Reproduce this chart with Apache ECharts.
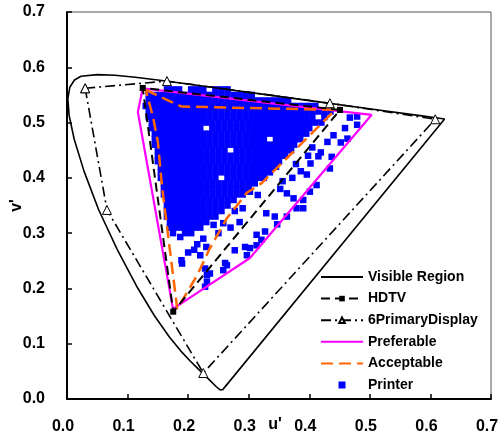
<!DOCTYPE html>
<html>
<head>
<meta charset="utf-8">
<script src="https://cdn.jsdelivr.net/npm/echarts@6/dist/echarts.min.js"></script>
<style>
  html, body { margin: 0; padding: 0; background: #fff; }
  #chart { width: 498px; height: 441px; }
</style>
</head>
<body>
<div id="chart"></div>
<script>
// axis ticks
var tickValues = [0, 0.1, 0.2, 0.3, 0.4, 0.5, 0.6, 0.7];

// spectral locus (u', v'), closed by the purple line
var visibleRegion = [
  [0.2568, 0.0165], [0.2545, 0.0159], [0.2522, 0.0169], [0.2461, 0.0226], [0.2347, 0.0350],
  [0.2266, 0.0437], [0.2161, 0.0549], [0.2033, 0.0688], [0.1877, 0.0871], [0.1690, 0.1120],
  [0.1441, 0.1510], [0.1147, 0.2044], [0.0828, 0.2708], [0.0521, 0.3427], [0.0282, 0.4117],
  [0.0119, 0.4698], [0.0035, 0.5131], [0.0014, 0.5432], [0.0046, 0.5638], [0.0123, 0.5770],
  [0.0231, 0.5837], [0.0501, 0.5868], [0.0792, 0.5856], [0.1127, 0.5821], [0.1531, 0.5766],
  [0.2026, 0.5694], [0.2623, 0.5604], [0.3315, 0.5501], [0.4035, 0.5393], [0.5203, 0.5219],
  [0.5830, 0.5125], [0.6234, 0.5065], [0.2568, 0.0165]
];

var hdtv = [[0.4507, 0.5229], [0.1250, 0.5625], [0.1754, 0.1579], [0.4507, 0.5229]];

var sixPrimary = [
  [0.030, 0.562], [0.165, 0.575], [0.434, 0.535], [0.608, 0.506],
  [0.225, 0.047], [0.066, 0.342], [0.030, 0.562]
];

var preferable = [
  [0.125, 0.562], [0.503, 0.514], [0.302, 0.255], [0.175, 0.163], [0.117, 0.519], [0.125, 0.562]
];

var acceptable = [
  [0.130, 0.559], [0.189, 0.529], [0.443, 0.523], [0.322, 0.391], [0.297, 0.373],
  [0.264, 0.327], [0.236, 0.273], [0.215, 0.224], [0.182, 0.163], [0.157, 0.383],
  [0.150, 0.465], [0.142, 0.510], [0.130, 0.559]
];

// printer gamut samples, dense part: [v', [u' ...]]
var printerRows = [
  [0.560, [.165, .175, .185, .205, .215, .225, .245, .255, .265]],
  [0.550, [.135, .145, .155, .165, .175, .185, .195, .205, .215, .225, .235, .245, .255, .265, .275, .285, .295, .305]],
  [0.540, [.135, .145, .155, .165, .175, .185, .195, .205, .215, .225, .235, .245, .255, .265, .275, .285, .295, .305, .315, .325, .335, .345, .355, .365]],
  [0.530, [.13, .14, .15, .16, .17, .18, .19, .20, .21, .22, .23, .24, .25, .26, .27, .28, .29, .30, .31, .32, .33, .34, .35, .36, .37, .38, .39, .40, .41]],
  [0.520, [.135, .145, .155, .165, .175, .185, .195, .205, .215, .225, .235, .245, .255, .265, .275, .285, .295, .305, .315, .325, .335, .345, .355, .365, .375, .385, .395, .405, .415, .425, .435]],
  [0.510, [.135, .145, .155, .165, .175, .185, .195, .205, .215, .225, .235, .245, .255, .265, .275, .285, .295, .305, .315, .325, .335, .345, .355, .365, .375, .385, .395, .405, .425]],
  [0.500, [.14, .15, .16, .17, .18, .19, .20, .21, .22, .23, .24, .25, .26, .27, .28, .29, .30, .31, .32, .33, .34, .35, .36, .37, .38, .39, .40, .41, .42]],
  [0.490, [.14, .15, .16, .17, .18, .19, .20, .21, .22, .24, .25, .26, .27, .28, .29, .30, .31, .32, .33, .34, .35, .36, .37, .38, .39, .40]],
  [0.480, [.145, .155, .165, .175, .185, .195, .205, .215, .225, .235, .245, .255, .265, .275, .285, .295, .305, .315, .325, .335, .345, .355, .365, .375, .385, .395]],
  [0.470, [.145, .155, .165, .175, .185, .195, .205, .215, .225, .235, .245, .255, .265, .275, .285, .295, .305, .315, .325, .345, .355, .365, .375, .385]],
  [0.460, [.145, .155, .165, .175, .185, .195, .205, .215, .225, .235, .245, .255, .265, .275, .285, .295, .305, .315, .325, .335, .345, .355, .365, .375]],
  [0.450, [.15, .16, .17, .18, .19, .20, .21, .22, .23, .24, .25, .26, .28, .29, .30, .31, .32, .33, .34, .35, .36, .37]],
  [0.440, [.15, .16, .17, .18, .19, .20, .21, .22, .23, .24, .25, .26, .27, .28, .29, .30, .31, .32, .33, .34, .35, .36]],
  [0.430, [.15, .16, .17, .18, .19, .20, .21, .22, .23, .24, .25, .26, .27, .28, .29, .30, .31, .32, .33, .34, .35]],
  [0.420, [.155, .165, .175, .185, .195, .205, .215, .225, .235, .245, .255, .265, .275, .285, .295, .305, .315, .325, .335, .345]],
  [0.410, [.155, .165, .175, .185, .195, .205, .215, .225, .235, .245, .255, .265, .275, .285, .295, .305, .315, .325, .335]],
  [0.400, [.155, .165, .175, .185, .195, .205, .215, .225, .235, .245, .265, .275, .285, .295, .305, .315, .325]],
  [0.390, [.16, .17, .18, .19, .20, .21, .22, .23, .24, .25, .26, .27, .28, .29, .30, .31]],
  [0.380, [.16, .17, .18, .19, .20, .21, .22, .23, .24, .25, .26, .27, .28, .29, .30]],
  [0.370, [.16, .17, .18, .19, .20, .21, .22, .23, .24, .25, .26, .27, .28, .29]],
  [0.360, [.165, .175, .185, .195, .205, .215, .225, .235, .245, .255, .265, .275]],
  [0.350, [.165, .175, .185, .195, .205, .215, .225, .235, .245, .255, .265]],
  [0.340, [.165, .175, .185, .195, .205, .215, .225, .235, .245, .255]],
  [0.330, [.165, .175, .185, .195, .205, .215, .225, .235, .245]],
  [0.320, [.17, .18, .19, .20, .21, .22, .23]],
  [0.310, [.17, .18, .19, .20, .21, .22]],
  [0.300, [.175, .195, .205]]
];

// printer gamut samples, sparse part
var printerSparse = [
  [0.467, 0.509], [0.479, 0.511], [0.459, 0.490], [0.479, 0.496], [0.463, 0.471], [0.440, 0.477],
  [0.430, 0.465], [0.452, 0.464], [0.419, 0.446], [0.437, 0.438], [0.415, 0.439], [0.434, 0.417],
  [0.386, 0.412], [0.396, 0.406], [0.405, 0.455], [0.398, 0.440], [0.402, 0.426], [0.378, 0.425],
  [0.372, 0.400], [0.356, 0.394], [0.352, 0.380], [0.363, 0.372], [0.374, 0.363], [0.390, 0.360],
  [0.401, 0.375], [0.412, 0.387], [0.379, 0.345], [0.390, 0.345], [0.363, 0.330], [0.343, 0.330],
  [0.329, 0.336], [0.347, 0.316], [0.327, 0.303], [0.313, 0.297], [0.321, 0.288], [0.313, 0.278],
  [0.302, 0.273], [0.302, 0.375], [0.315, 0.369], [0.277, 0.340], [0.290, 0.345], [0.258, 0.318],
  [0.242, 0.315], [0.250, 0.300], [0.270, 0.310], [0.285, 0.320], [0.187, 0.293], [0.215, 0.280],
  [0.225, 0.290], [0.230, 0.275], [0.210, 0.270], [0.200, 0.265], [0.220, 0.260], [0.189, 0.251],
  [0.190, 0.245], [0.228, 0.236], [0.231, 0.224], [0.258, 0.233], [0.261, 0.246], [0.277, 0.269],
  [0.297, 0.260], [0.294, 0.275], [0.236, 0.227], [0.231, 0.212], [0.228, 0.203], [0.264, 0.242]
];

var printer = [];
printerRows.forEach(function (row) {
  row[1].forEach(function (u) { printer.push([u, row[0]]); });
});
printer = printer.concat(printerSparse);

var font = '"Liberation Sans", Arial, sans-serif';
var noMarker = { opacity: 0 };

var myChart = echarts.init(document.getElementById('chart'));
var options = {
  animation: false,
  grid: {
    left: 67, right: 7, top: 12, bottom: 42,
    containLabel: false,
    outerBoundsMode: 'none',
    show: true, borderColor: '#555', borderWidth: 1
  },
  legend: {
    data: [
      { name: 'Visible Region', itemStyle: noMarker },
      { name: 'HDTV' },
      { name: '6PrimaryDisplay' },
      { name: 'Preferable', itemStyle: noMarker },
      { name: 'Acceptable', itemStyle: noMarker },
      { name: 'Printer', icon: 'path://M0,0L10,0L10,10L0,10Z' }
    ],
    orient: 'vertical',
    left: 315,
    top: 265,
    itemWidth: 42,
    itemHeight: 7,
    itemGap: 7.6,
    symbolKeepAspect: true,
    textStyle: { color: '#000', fontWeight: 'bold', fontSize: 14, fontFamily: font }
  },
  xAxis: {
    type: 'value',
    min: tickValues[0],
    max: tickValues[tickValues.length - 1],
    interval: 0.1,
    name: "u'",
    nameLocation: 'middle',
    nameGap: 18,
    nameMoveOverlap: false,
    nameTextStyle: { color: '#000', fontWeight: 'bold', fontSize: 16, fontFamily: font, padding: [0, 8, 0, 0] },
    axisLine: { lineStyle: { color: '#000', width: 2 } },
    axisTick: { inside: true, length: 5, lineStyle: { color: '#000', width: 1.5 } },
    splitLine: { show: false },
    axisLabel: {
      margin: 20, color: '#000', fontWeight: 'bold', fontSize: 16, fontFamily: font,
      padding: [0, 8, 0, 0],
      formatter: function (v) { return v.toFixed(1); }
    }
  },
  yAxis: {
    type: 'value',
    min: tickValues[0],
    max: tickValues[tickValues.length - 1],
    interval: 0.1,
    name: "v'",
    nameLocation: 'middle',
    nameGap: 42,
    nameRotate: 90,
    nameMoveOverlap: false,
    nameTextStyle: { color: '#000', fontWeight: 'bold', fontSize: 16, fontFamily: font },
    axisLine: { lineStyle: { color: '#000', width: 2 } },
    axisTick: { inside: true, length: 5, lineStyle: { color: '#000', width: 1.5 } },
    splitLine: { show: false },
    axisLabel: {
      margin: 22, color: '#000', fontWeight: 'bold', fontSize: 16, fontFamily: font,
      formatter: function (v) { return v.toFixed(1); }
    }
  },
  series: [
    {
      name: 'Printer',
      type: 'scatter',
      data: printer,
      symbol: 'rect',
      symbolSize: 6.5,
      itemStyle: { color: '#0000ff', opacity: 1 }
    },
    {
      name: 'Visible Region',
      type: 'line',
      data: visibleRegion,
      symbol: 'none',
      color: '#000',
      lineStyle: { color: '#000', width: 1.6 }
    },
    {
      name: '6PrimaryDisplay',
      type: 'line',
      data: sixPrimary,
      symbol: 'triangle',
      symbolSize: 9,
      color: '#000',
      lineStyle: { color: '#000', width: 1.6, type: [10, 4, 2, 4] },
      itemStyle: { color: '#fff', borderColor: '#000', borderWidth: 1 }
    },
    {
      name: 'Preferable',
      type: 'line',
      data: preferable,
      symbol: 'none',
      color: '#ff00ff',
      lineStyle: { color: '#ff00ff', width: 2.2 }
    },
    {
      name: 'Acceptable',
      type: 'line',
      data: acceptable,
      symbol: 'none',
      color: '#ff6600',
      lineStyle: { color: '#ff6600', width: 2.5, type: [12, 6] }
    },
    {
      name: 'HDTV',
      type: 'line',
      data: hdtv,
      symbol: 'rect',
      symbolSize: 6,
      color: '#000',
      lineStyle: { color: '#000', width: 2, type: [9, 5] },
      itemStyle: { color: '#000' }
    }
  ]
};
myChart.setOption(options);
window.addEventListener('resize', myChart.resize);
</script>
</body>
</html>
